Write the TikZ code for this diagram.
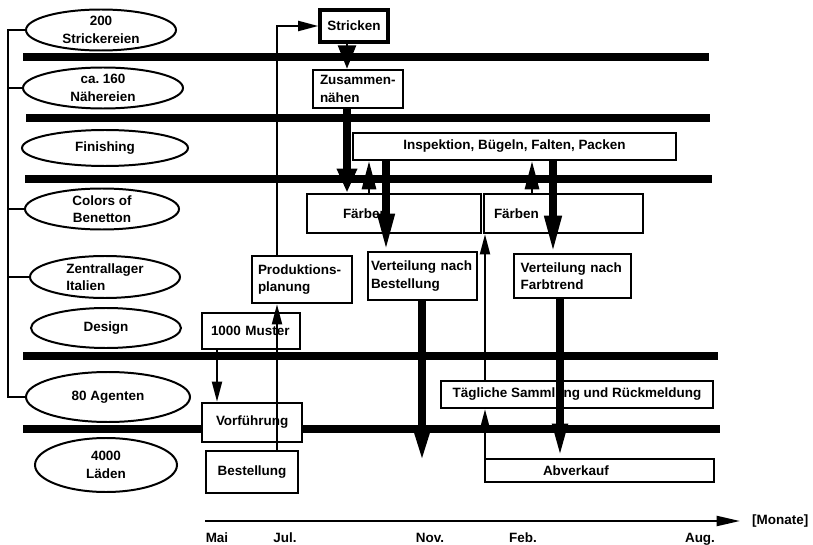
\documentclass[tikz,border=0pt]{standalone}
\usepackage{fontspec}
\setmainfont{Liberation Sans}
\usetikzlibrary{arrows.meta, shapes.geometric}
\newcommand\lbl{\fontsize{11.5}{15}\selectfont\bfseries}

\begin{document}
\begin{tikzpicture}[x=0.3mm, y=-0.3mm,
  unit/.style={draw, ellipse, line width=1.7pt, fill=white, inner sep=-2pt, align=center, font=\lbl},
  stage/.style={draw, rectangle, line width=2.2pt, fill=white, inner ysep=0pt, align=left, font=\lbl},
  bar/.style={line width=6pt},
  link/.style={line width=1.6pt},
  flow/.style={line width=1.6pt, -{Triangle[length=6mm, width=3mm]}},
  bigflow/.style 2 args={line width=6pt, -{Triangle[length=#1, width=#2]}}]
  \useasboundingbox (0,0) rectangle (813,545);

  % level separators
  \draw[bar] (23,57) -- (709,57);
  \draw[bar] (26,118) -- (710,118);
  \draw[bar] (25,179) -- (712,179);
  \draw[bar] (23,356) -- (718,356);
  \draw[bar] (23,429) -- (720,429);

  % units on the left
  \node[unit, minimum width=45mm, minimum height=12.3mm] (str) at (101,30) {200\\Strickereien};
  \node[unit, minimum width=48mm, minimum height=12.3mm] (nae) at (103,88) {ca.\ 160\\Nähereien};
  \node[unit, minimum width=49.8mm, minimum height=10.8mm] (fin) at (105,148) {Finishing};
  \node[unit, minimum width=46.2mm, minimum height=12.3mm] (col) at (102,209) {Colors of\\Benetton};
  \node[unit, align=left, minimum width=45mm, minimum height=12.6mm] (zen) at (105,277) {Zentrallager\\Italien};
  \node[unit, minimum width=45mm, minimum height=12mm] (des) at (106,328) {Design};
  \node[unit, minimum width=49.2mm, minimum height=15mm] (agt) at (108,397) {80 Agenten};
  \node[unit, minimum width=42.6mm, minimum height=16.2mm] (lad) at (106,465) {4000\\Läden};

  % bracket
  \coordinate (brk) at (8,0);
  \draw[link] (str.west) -- (str.west -| brk) -- (agt.west -| brk) -- (agt.west);
  \foreach \e in {nae,col,zen}
    \draw[link] (\e.west) -- (\e.west -| brk);

  % stages
  \node[stage, line width=3pt, align=center, minimum width=20.4mm, minimum height=9.6mm] (strick) at (354,26) {Stricken};
  \node[stage, minimum width=27mm, minimum height=11.4mm, text width=22.8mm, inner xsep=2.1mm] (zus) at (358,89) {Zusammen-\\nähen};
  \node[stage, align=center, minimum width=96.9mm, minimum height=8.1mm] (insp) at (514.5,146.5) {Inspektion, Bügeln, Falten, Packen};
  \node[stage, minimum width=52.2mm, minimum height=11.7mm, text width=30.6mm, inner xsep=10.8mm] (farb1) at (394,213.5) {Färben};
  \node[stage, minimum width=47.7mm, minimum height=11.7mm, text width=41.7mm, inner xsep=3mm] (farb2) at (563.5,213.5) {Färben};
  \node[stage, minimum width=30mm, minimum height=14.1mm, text width=26.4mm, inner xsep=1.8mm] (prod) at (302,279.5) {Produktions-\\planung};
  \node[stage, minimum width=32.7mm, minimum height=14.4mm, text width=30.9mm, inner xsep=0.9mm] (vbest) at (422.5,276) {Verteilung nach\\Bestellung};
  \node[stage, minimum width=35.1mm, minimum height=13.2mm, text width=31.1mm, inner xsep=2mm] (vfarb) at (572.5,276) {Verteilung nach\\Farbtrend};
  \node[stage, minimum width=29.4mm, minimum height=10.8mm, text width=24mm, inner xsep=2.7mm] (muster) at (251,331) {1000 Muster};
  \node[stage, minimum width=30mm, minimum height=11.7mm, text width=21.6mm, inner xsep=4.2mm] (vorf) at (252,422.5) {Vorführung};
  \node[stage, align=center, minimum width=27.6mm, minimum height=12.6mm] (bestl) at (252,472) {Bestellung};
  \node[stage, align=center, minimum width=81.6mm, minimum height=8.1mm] (taegl) at (577,394.5) {Tägliche Sammlung und Rückmeldung};
  \node[stage, minimum width=68.7mm, minimum height=6.9mm, text width=33.9mm, inner xsep=17.4mm] (abv) at (599.5,470.5) {Abverkauf};

  % lanes for the vertical flows
  \coordinate (lA) at (347,0);
  \coordinate (lB) at (369,0);
  \coordinate (lC) at (386,0);
  \coordinate (lD) at (532,0);
  \coordinate (lE) at (553,0);
  \coordinate (lF) at (422,0);
  \coordinate (lG) at (560,0);
  \coordinate (lH) at (485,0);
  \coordinate (lI) at (277,0);
  \coordinate (lJ) at (217,0);
  \coordinate (vbestEnd) at (422,463);

  % goods
  \draw[line width=2pt, -{Triangle[length=7mm, width=5.4mm]}] (strick.south -| lA) -- (zus.north -| lA);
  \draw[bigflow={7.2mm}{5.7mm}] (zus.south -| lA) -- (farb1.north -| lA);
  \draw[line width=2.5pt, -{Triangle[length=8.4mm, width=4.2mm]}] (farb1.north -| lB) -- (insp.south -| lB);
  \draw[bigflow={11.1mm}{4.8mm}] (insp.south -| lC) -- (vbest.north -| lC);
  \draw[line width=2.5pt, -{Triangle[length=8.4mm, width=4.2mm]}] (farb2.north -| lD) -- (insp.south -| lD);
  \draw[bigflow={11.1mm}{4.8mm}] (insp.south -| lE) -- (vfarb.north -| lE);
  \draw[bigflow={9mm}{3.9mm}] (vbest.south -| lF) -- (vbestEnd);
  \draw[bigflow={10.2mm}{4.2mm}] (vfarb.south -| lG) -- (abv.north -| lG);

  % orders and feedback
  \draw[flow] (muster.south -| lJ) -- (vorf.north -| lJ);
  \draw[flow] (bestl.north -| lI) -- (prod.south -| lI);
  \draw[flow] (prod.north -| lI) |- (strick.west);
  \draw[flow] (abv.north -| lH) -- (taegl.south -| lH);
  \draw[flow] (taegl.north -| lH) -- (farb2.south -| lH);

  % time axis
  \coordinate (axL) at (205,521);
  \coordinate (axR) at (740,521);
  \draw[line width=1.8pt, -{Triangle[length=7mm, width=3mm]}] (axL) -- (axR);
  \node[anchor=west, font=\lbl] (monate) at ([xshift=2.4mm]axR) {[Monate]};
  \foreach \n/\t/\x in {mai/Mai/217, jul/Jul./285, nov/Nov./430, feb/Feb./523, aug/Aug./700}
    \node[font=\lbl, anchor=base] (\n) at (\x,542) {\t};
\end{tikzpicture}
\end{document}
